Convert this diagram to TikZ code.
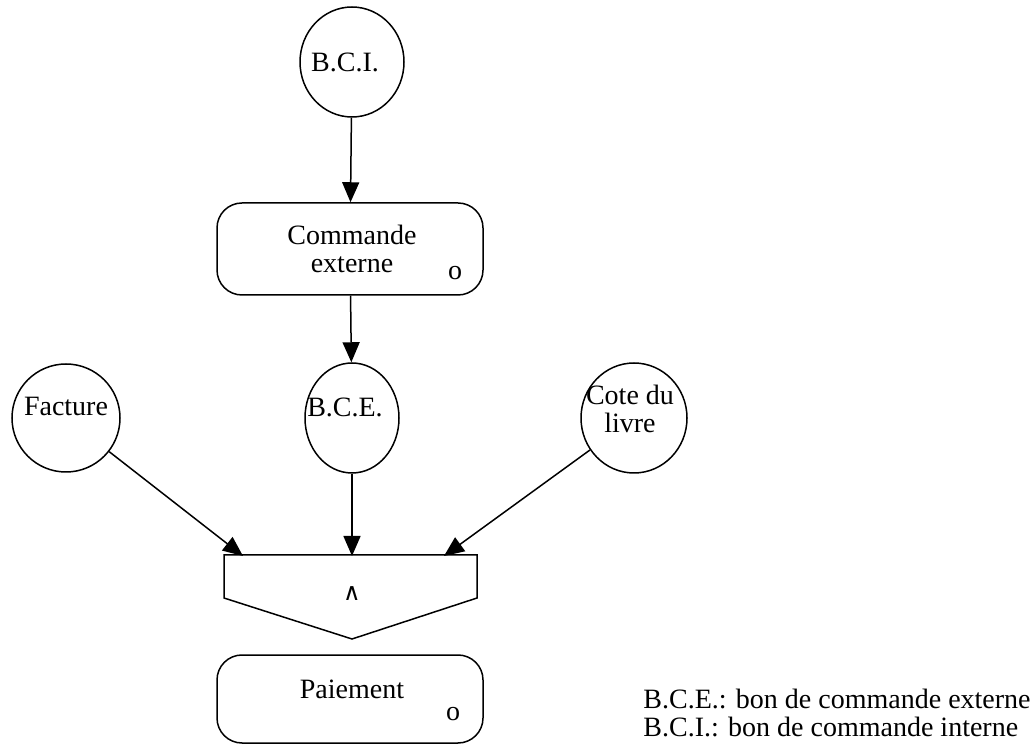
\documentclass[tikz,border=0pt]{standalone}
\usepackage{fontspec}
\setmainfont{Liberation Serif}
\newfontfamily\symfont{DejaVu Sans}
\usetikzlibrary{arrows.meta,shapes.geometric}
\begin{document}
\begin{tikzpicture}[x=0.5pt,y=-0.5pt,
  every node/.style={font=\fontsize{14pt}{14pt}\selectfont},
  bubble/.style={draw,ellipse,line width=0.75pt,inner sep=0pt},
  procbox/.style={draw,rounded corners=12.5pt,line width=0.75pt,minimum width=133pt,inner sep=0pt},
  txt/.style={anchor=base,inner sep=0pt},
  flow/.style={line width=0.75pt,-{Triangle[length=10pt,width=8.5pt]}}]
\useasboundingbox (0,0) rectangle (1032,747);
% bubbles
\node[bubble,minimum width=52pt,minimum height=55pt] (bci) at (352,62) {};
\node[txt] (bcit) at (345,72) {B.C.I.};
\node[bubble,minimum width=54pt,minimum height=54pt] (fac) at (66,418) {};
\node[txt] (fact) at (66,416) {Facture};
\node[bubble,minimum width=47pt,minimum height=55pt] (bce) at (352,418) {};
\node[txt] (bcet) at (345,417) {B.C.E.};
\node[bubble,minimum width=53pt,minimum height=55pt] (cote) at (634,418) {};
\node[txt] (cotet1) at (630,405) {Cote du};
\node[txt] (cotet2) at (630,433) {livre};
% process boxes
\node[procbox,minimum height=46pt] (ce) at (350,249) {};
\node[txt] (cet1) at (352,245) {Commande};
\node[txt] (cet2) at (352,273) {externe};
\node[txt] (ceo) at (455,280) {o};
\node[procbox,minimum height=44pt] (pai) at (350,699) {};
\node[txt] (pait) at (352,698) {Paiement};
\node[txt] (paio) at (453,720) {o};
% junction
\draw[line width=0.75pt] (224,555) -- (477,555) -- (477,598) -- (352,639) -- (224,598) -- cycle;
\coordinate (j1) at (243,556);
\coordinate (j2) at (352,556);
\coordinate (j3) at (444,556);
\node[txt,font=\symfont\fontsize{12pt}{12pt}\selectfont] (and) at (352,601) {∧};
% connectors
\draw[flow] (bci) -- (ce);
\draw[flow] (ce) -- (bce);
\draw[flow] (bce) -- (j2);
\draw[flow] (fac) -- (j1);
\draw[flow] (cote) -- (j3);
% legend
\node[txt,anchor=base west] (leg1) at (643,708) {B.C.E.: bon de commande externe};
\node[txt,anchor=base west] (leg2) at (643,736) {B.C.I.: bon de commande interne};
\end{tikzpicture}
\end{document}
